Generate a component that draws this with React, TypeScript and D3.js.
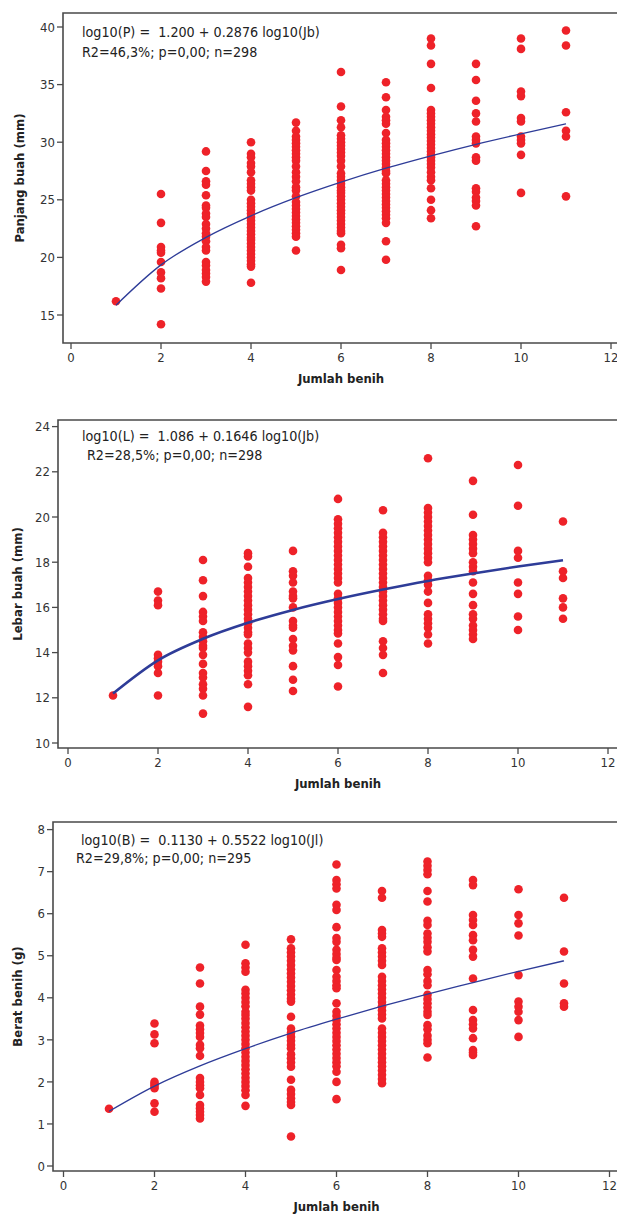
import * as d3 from "d3";

// Jumlah benih (x) categories, 1..11
const jumlahBenih = [1, 2, 3, 4, 5, 6, 7, 8, 9, 10, 11];

// Panjang buah (mm), one list per jumlah benih
const panjangBuah: number[][] = [
  [16.2],
  [25.5, 23.0, 20.9, 20.6, 20.4, 19.6, 18.7, 18.2, 17.3, 14.2],
  [29.2, 27.5, 26.6, 26.3, 25.4, 24.5, 24.3, 23.8, 23.5, 22.9, 22.5, 22.1, 21.8, 21.4, 20.9, 20.6, 19.6, 19.3, 18.9, 18.6, 18.3, 17.9],
  [30.0, 29.0, 28.7, 28.2, 27.9, 27.4, 26.7, 26.4, 26.1, 25.8, 25.0, 24.7, 24.4, 24.1, 23.8, 23.5, 23.2, 22.9, 22.6, 22.3, 22.0, 21.7, 21.5, 21.2, 20.9, 20.6, 20.3, 20.0, 19.7, 19.4, 19.2, 17.8],
  [31.7, 31.0, 30.5, 30.2, 29.9, 29.6, 29.3, 29.0, 28.7, 28.4, 27.9, 27.4, 27.0, 26.6, 26.1, 25.8, 25.3, 24.8, 24.5, 24.2, 23.9, 23.6, 23.3, 23.0, 22.7, 22.4, 22.1, 21.8, 20.6],
  [36.1, 33.1, 31.9, 31.3, 30.6, 30.3, 30.0, 29.7, 29.4, 29.1, 28.8, 28.4, 27.9, 27.3, 27.0, 26.7, 26.4, 26.1, 25.8, 25.6, 25.3, 25.0, 24.7, 24.4, 24.1, 23.8, 23.5, 23.2, 22.9, 22.6, 22.3, 22.1, 21.1, 20.8, 18.9],
  [35.2, 33.9, 32.8, 32.2, 31.9, 31.6, 30.8, 30.2, 29.9, 29.6, 29.3, 29.0, 28.7, 28.4, 28.1, 27.8, 27.5, 27.3, 26.7, 26.4, 26.1, 25.8, 25.5, 25.2, 24.9, 24.6, 24.3, 24.0, 23.7, 23.4, 23.0, 21.4, 19.8],
  [39.0, 38.4, 36.8, 34.7, 32.8, 32.5, 32.2, 31.9, 31.6, 31.3, 31.0, 30.7, 30.4, 30.1, 29.8, 29.5, 29.2, 28.9, 28.7, 28.4, 28.1, 27.8, 27.4, 27.0, 26.7, 26.0, 25.0, 24.1, 23.4],
  [36.8, 35.4, 33.6, 32.5, 31.8, 30.5, 30.2, 29.9, 28.7, 28.4, 26.0, 25.7, 25.2, 24.9, 24.5, 22.7],
  [39.0, 38.1, 34.4, 34.0, 32.1, 31.8, 30.5, 30.2, 29.9, 28.9, 25.6],
  [39.7, 38.4, 32.6, 31.0, 30.5, 25.3],
];

// Lebar buah (mm)
const lebarBuah: number[][] = [
  [12.1],
  [16.7, 16.3, 16.1, 13.9, 13.75, 13.6, 13.4, 13.1, 12.1],
  [18.1, 17.2, 16.5, 15.8, 15.6, 15.4, 14.9, 14.7, 14.5, 14.3, 14.2, 13.9, 13.5, 13.1, 12.9, 12.6, 12.4, 12.1, 11.3],
  [18.4, 18.25, 17.8, 17.3, 17.1, 16.9, 16.7, 16.5, 16.3, 16.1, 15.9, 15.7, 15.5, 15.3, 15.1, 14.9, 14.8, 14.4, 14.2, 14.0, 13.6, 13.4, 13.2, 13.0, 12.6, 11.6],
  [18.5, 17.6, 17.4, 17.1, 16.7, 16.5, 16.4, 16.0, 15.4, 15.2, 15.1, 14.6, 14.3, 14.1, 13.4, 12.8, 12.3],
  [20.8, 19.9, 19.7, 19.5, 19.3, 19.1, 18.9, 18.7, 18.5, 18.3, 18.1, 17.9, 17.7, 17.5, 17.3, 17.1, 16.6, 16.4, 16.2, 16.0, 15.8, 15.6, 15.4, 15.2, 15.0, 14.85, 14.4, 13.8, 13.45, 12.5],
  [20.3, 19.3, 19.1, 18.9, 18.7, 18.5, 18.3, 18.1, 17.9, 17.7, 17.5, 17.3, 17.1, 16.9, 16.7, 16.5, 16.3, 16.1, 15.9, 15.7, 15.5, 15.4, 14.5, 14.2, 13.9, 13.1],
  [22.6, 20.4, 20.2, 20.0, 19.8, 19.6, 19.4, 19.2, 19.0, 18.8, 18.6, 18.4, 18.2, 18.0, 17.4, 17.2, 17.0, 16.7, 16.2, 15.7, 15.5, 15.3, 15.1, 14.8, 14.4],
  [21.6, 20.1, 19.2, 19.0, 18.8, 18.6, 18.4, 18.0, 17.8, 17.6, 17.1, 16.6, 16.1, 15.7, 15.5, 15.2, 15.0, 14.8, 14.6],
  [22.3, 20.5, 18.5, 18.2, 17.1, 16.6, 15.6, 15.0],
  [19.8, 17.6, 17.3, 16.4, 16.0, 15.5],
];

// Berat benih (g)
const beratBenih: number[][] = [
  [1.36],
  [3.39, 3.13, 2.92, 2.0, 1.95, 1.9, 1.85, 1.49, 1.29],
  [4.72, 4.34, 3.79, 3.6, 3.34, 3.25, 3.16, 3.07, 2.88, 2.8, 2.62, 2.09, 2.0, 1.92, 1.85, 1.69, 1.45, 1.37, 1.29, 1.21, 1.13],
  [5.26, 4.82, 4.72, 4.62, 4.19, 4.1, 4.0, 3.9, 3.8, 3.67, 3.59, 3.5, 3.4, 3.3, 3.2, 3.1, 3.0, 2.9, 2.8, 2.7, 2.6, 2.5, 2.4, 2.3, 2.2, 2.1, 2.0, 1.9, 1.8, 1.69, 1.43],
  [5.39, 5.18, 5.08, 4.98, 4.88, 4.78, 4.68, 4.58, 4.48, 4.38, 4.28, 4.18, 4.08, 3.98, 3.91, 3.55, 3.27, 3.17, 3.07, 2.98, 2.88, 2.8, 2.66, 2.56, 2.46, 2.36, 2.05, 1.81, 1.71, 1.61, 1.52, 1.45, 0.7],
  [7.17, 6.8, 6.7, 6.6, 6.21, 6.09, 5.68, 5.42, 5.33, 5.14, 5.04, 4.95, 4.9, 4.66, 4.5, 4.4, 4.3, 4.23, 3.87, 3.67, 3.57, 3.47, 3.37, 3.27, 3.17, 3.07, 2.97, 2.87, 2.77, 2.67, 2.57, 2.47, 2.37, 2.24, 2.0, 1.59],
  [6.54, 6.38, 5.61, 5.53, 5.45, 5.18, 5.08, 4.98, 4.88, 4.78, 4.5, 4.4, 4.3, 4.2, 4.1, 4.0, 3.9, 3.8, 3.7, 3.6, 3.51, 3.27, 3.17, 3.07, 2.97, 2.87, 2.77, 2.67, 2.57, 2.47, 2.37, 2.27, 2.17, 2.07, 1.97],
  [7.24, 7.14, 7.04, 6.94, 6.54, 6.29, 5.83, 5.73, 5.53, 5.43, 5.33, 5.2, 5.1, 4.66, 4.56, 4.4, 4.3, 4.07, 3.97, 3.87, 3.77, 3.67, 3.59, 3.35, 3.25, 3.1, 3.0, 2.92, 2.58],
  [6.8, 6.68, 5.97, 5.85, 5.73, 5.49, 5.37, 5.14, 4.98, 4.46, 3.71, 3.47, 3.37, 3.27, 3.04, 2.76, 2.7, 2.64],
  [6.58, 5.97, 5.77, 5.48, 4.54, 3.91, 3.79, 3.67, 3.47, 3.07],
  [6.38, 5.1, 4.34, 3.87, 3.79],
];

// fitted regression curves, read at each jumlah benih
const fitPanjang = [15.85, 19.35, 21.74, 23.61, 25.18, 26.53, 27.74, 28.82, 29.82, 30.73, 31.59];
const fitLebar = [12.19, 13.66, 14.61, 15.32, 15.89, 16.37, 16.79, 17.17, 17.5, 17.81, 18.09];
const fitBerat = [1.3, 1.9, 2.38, 2.79, 3.16, 3.49, 3.8, 4.09, 4.36, 4.63, 4.88];

const xTicks = [0, 2, 4, 6, 8, 10, 12];
const panjangTicks = [15, 20, 25, 30, 35, 40];
const lebarTicks = [10, 12, 14, 16, 18, 20, 22, 24];
const beratTicks = [0, 1, 2, 3, 4, 5, 6, 7, 8];

const FONT = "'DejaVu Sans Condensed', 'DejaVu Sans', Tahoma, sans-serif";
const RED = "#ee2229";
const BLUE = "#2e3c98";
const AXIS = "#4a4a4a";

type PanelProps = {
  values: number[][];
  fit: number[];
  yTicks: number[];
  yDomain: [number, number];
  frame: { left: number; top: number; bottom: number };
  xRange: [number, number];
  yRange: [number, number];
  yTitle: string;
  yTitleX: number;
  eq: [string, string];
  eqPos: [number, number, number, number];
  lineWidth: number;
};

function Panel(p: PanelProps) {
  const x = d3.scaleLinear().domain([0, 12]).range(p.xRange);
  const y = d3.scaleLinear().domain(p.yDomain).range(p.yRange);
  const line = d3
    .line<number>()
    .x((_, i) => x(jumlahBenih[i]))
    .y((d) => y(d))
    .curve(d3.curveMonotoneX);
  const { left, top, bottom } = p.frame;
  const midY = (top + bottom) / 2;

  return (
    <g>
      <path
        d={`M640,${top}H${left}V${bottom}H640`}
        fill="none"
        stroke={AXIS}
        strokeWidth={1.6}
      />
      {p.yTicks.map((t) => (
        <g key={t}>
          <line x1={left - 6} x2={left} y1={y(t)} y2={y(t)} stroke={AXIS} strokeWidth={1.3} />
          <text
            x={left - 8}
            y={y(t)}
            dy="0.36em"
            textAnchor="end"
            fontSize={13}
            fill="#333"
          >
            {t}
          </text>
        </g>
      ))}
      {xTicks.map((t) => (
        <g key={t}>
          <line x1={x(t)} x2={x(t)} y1={bottom} y2={bottom + 6} stroke={AXIS} strokeWidth={1.3} />
          <text x={x(t)} y={bottom + 19} textAnchor="middle" fontSize={13} fill="#333">
            {t}
          </text>
        </g>
      ))}
      <text
        x={x(6)}
        y={bottom + 40}
        textAnchor="middle"
        fontSize={13}
        fontWeight="bold"
        fill="#222"
      >
        Jumlah benih
      </text>
      <text
        transform={`translate(${p.yTitleX},${midY}) rotate(-90)`}
        textAnchor="middle"
        fontSize={13}
        fontWeight="bold"
        fill="#222"
      >
        {p.yTitle}
      </text>
      <text
        x={p.eqPos[0]}
        y={p.eqPos[1]}
        fontSize={14.2}
        fill="#222"
        style={{ whiteSpace: "pre" }}
      >
        {p.eq[0]}
      </text>
      <text x={p.eqPos[2]} y={p.eqPos[3]} fontSize={14.2} fill="#222">
        {p.eq[1]}
      </text>
      {p.values.map((col, i) =>
        col.map((v, j) => (
          <circle key={`${i}-${j}`} cx={x(jumlahBenih[i])} cy={y(v)} r={4.3} fill={RED} />
        ))
      )}
      <path d={line(p.fit) ?? ""} fill="none" stroke={BLUE} strokeWidth={p.lineWidth} />
    </g>
  );
}

export default function App() {
  return (
    <svg
      width={617}
      height={1215}
      style={{ position: "absolute", left: 0, top: 0, background: "#fff" }}
      fontFamily={FONT}
    >
      <Panel
        values={panjangBuah}
        fit={fitPanjang}
        yTicks={panjangTicks}
        yDomain={[15, 40]}
        frame={{ left: 63, top: 13, bottom: 343 }}
        xRange={[71, 611]}
        yRange={[315, 27]}
        yTitle="Panjang buah (mm)"
        yTitleX={24}
        eq={["log10(P) =  1.200 + 0.2876 log10(Jb)", "R2=46,3%; p=0,00; n=298"]}
        eqPos={[82, 37, 82, 57]}
        lineWidth={1.3}
      />
      <Panel
        values={lebarBuah}
        fit={fitLebar}
        yTicks={lebarTicks}
        yDomain={[10, 24]}
        frame={{ left: 58, top: 420, bottom: 748 }}
        xRange={[68, 608]}
        yRange={[743, 426.6]}
        yTitle="Lebar buah (mm)"
        yTitleX={22}
        eq={["log10(L) =  1.086 + 0.1646 log10(Jb)", "R2=28,5%; p=0,00; n=298"]}
        eqPos={[82, 441, 87, 460]}
        lineWidth={2.6}
      />
      <Panel
        values={beratBenih}
        fit={fitBerat}
        yTicks={beratTicks}
        yDomain={[0, 8]}
        frame={{ left: 53, top: 822, bottom: 1171 }}
        xRange={[63.5, 609.5]}
        yRange={[1166, 829.6]}
        yTitle="Berat benih (g)"
        yTitleX={22}
        eq={["log10(B) =  0.1130 + 0.5522 log10(Jl)", "R2=29,8%; p=0,00; n=295"]}
        eqPos={[81, 845, 76, 863]}
        lineWidth={1.3}
      />
    </svg>
  );
}
